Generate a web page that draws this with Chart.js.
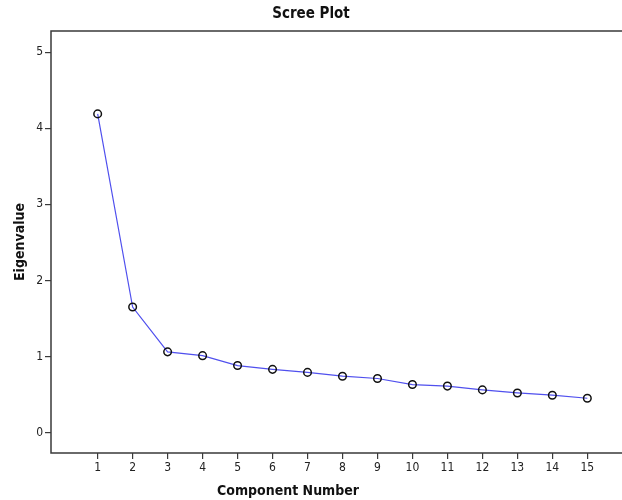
<!DOCTYPE html>
<html>
<head>
  <meta charset="utf-8">
  <script src="https://cdn.jsdelivr.net/npm/chart.js"></script>
  <style>
    html, body { margin: 0; padding: 0; background: #fff; }
    #wrap { width: 622px; height: 500px; }
  </style>
</head>
<body>
  <div id="wrap"><canvas id="scree"></canvas></div>
  <script>
    // component numbers and their eigenvalues
    var components = [1, 2, 3, 4, 5, 6, 7, 8, 9, 10, 11, 12, 13, 14, 15];
    var eigenvalues = [4.19, 1.65, 1.06, 1.01, 0.88, 0.83, 0.79, 0.74, 0.71, 0.63, 0.61, 0.56, 0.52, 0.49, 0.45];
    var xTicks = [1, 2, 3, 4, 5, 6, 7, 8, 9, 10, 11, 12, 13, 14, 15];
    var yTicks = [0, 1, 2, 3, 4, 5];

    var fontFam = '"DejaVu Sans Condensed", "DejaVu Sans", sans-serif';
    var axisColor = '#3a3a3a';

    var points = components.map(function (c, i) {
      return { x: c, y: eigenvalues[i] };
    });

    // top/left/bottom frame run to the canvas edge, plus the x axis title
    // (it sits left of centre in the original)
    var framePlugin = {
      id: 'frame',
      afterDraw: function (chart) {
        var ctx = chart.ctx;
        var a = chart.chartArea;
        ctx.save();
        ctx.strokeStyle = axisColor;
        ctx.lineWidth = 1.5;
        ctx.beginPath();
        ctx.moveTo(chart.width, a.bottom);
        ctx.lineTo(a.left, a.bottom);
        ctx.lineTo(a.left, a.top);
        ctx.lineTo(chart.width, a.top);
        ctx.stroke();
        ctx.fillStyle = '#111';
        ctx.font = 'bold 14px ' + fontFam;
        ctx.textAlign = 'center';
        ctx.textBaseline = 'middle';
        ctx.fillText('Component Number', 288, 491);
        ctx.restore();
      }
    };

    new Chart('scree', {
      type: 'line',
      data: {
        datasets: [{
          data: points,
          borderColor: '#5050ee',
          borderWidth: 1.2,
          tension: 0,
          pointRadius: 3.8,
          pointBorderWidth: 1.5,
          pointBorderColor: '#111',
          pointBackgroundColor: 'rgba(255,255,255,0)',
          pointHoverRadius: 3.8
        }]
      },
      options: {
        responsive: true,
        maintainAspectRatio: false,
        animation: false,
        layout: { padding: 0 },
        plugins: {
          legend: { display: false },
          tooltip: { enabled: false },
          title: {
            display: true,
            text: 'Scree Plot',
            color: '#111',
            font: { family: fontFam, size: 15, weight: 'bold', lineHeight: 1.2 },
            padding: { top: 5, bottom: 8 }
          }
        },
        scales: {
          x: {
            type: 'linear',
            min: -0.334,
            max: 15.84,
            afterBuildTicks: function (scale) {
              scale.ticks = xTicks.map(function (v) { return { value: v }; });
            },
            afterFit: function (scale) { scale.height = 47; },
            grid: {
              drawOnChartArea: false,
              drawTicks: true,
              tickLength: 6,
              tickColor: axisColor,
              lineWidth: 1.2
            },
            border: { display: false },
            ticks: {
              color: '#222',
              padding: 2,
              maxRotation: 0,
              autoSkip: false,
              font: { family: fontFam, size: 12 }
            }
          },
          y: {
            type: 'linear',
            min: -0.27,
            max: 5.28,
            afterBuildTicks: function (scale) {
              scale.ticks = yTicks.map(function (v) { return { value: v }; });
            },
            afterFit: function (scale) { scale.width = 51; },
            grid: {
              drawOnChartArea: false,
              drawTicks: true,
              tickLength: 6,
              tickColor: axisColor,
              lineWidth: 1.2
            },
            border: { display: false },
            ticks: {
              color: '#222',
              padding: 2,
              font: { family: fontFam, size: 12 }
            },
            title: {
              display: true,
              text: 'Eigenvalue',
              color: '#111',
              font: { family: fontFam, size: 14, weight: 'bold' },
              padding: { top: 12, bottom: 0 }
            }
          }
        }
      },
      plugins: [framePlugin]
    });
  </script>
</body>
</html>
